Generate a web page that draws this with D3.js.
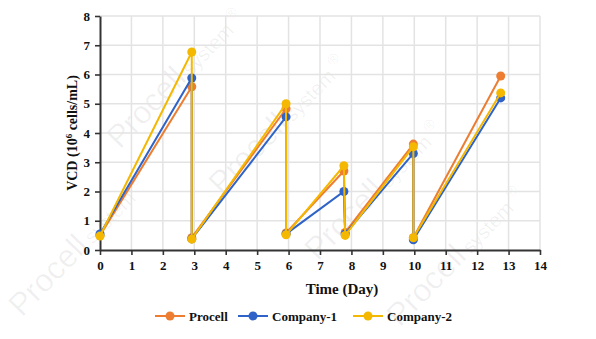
<!DOCTYPE html>
<html>
<head>
<meta charset="utf-8">
<script src="https://cdn.jsdelivr.net/npm/d3@7"></script>
<style>
  html, body { margin: 0; padding: 0; background: #fff; }
  svg { display: block; }
  .serif { font-family: "Liberation Serif", "Times New Roman", serif; font-weight: bold; }
</style>
</head>
<body>
<svg id="chart" width="596" height="339"></svg>
<script>
// ---- data ----
const days = [0, 2.92, 2.92, 5.92, 5.92, 7.76, 7.8, 9.97, 9.97, 12.75];
const procellValues   = [0.50, 5.58, 0.42, 4.83, 0.58, 2.70, 0.60, 3.62, 0.42, 5.95];
const company1Values  = [0.55, 5.88, 0.38, 4.55, 0.55, 2.00, 0.55, 3.30, 0.35, 5.20];
const company2Values  = [0.48, 6.77, 0.37, 5.00, 0.52, 2.88, 0.50, 3.53, 0.42, 5.37];
const seriesNames = ["Procell", "Company-1", "Company-2"];
const xTicks = [0,1,2,3,4,5,6,7,8,9,10,11,12,13,14];
const yTicks = [0,1,2,3,4,5,6,7,8];

const colors = ["#ED7D31", "#2F63C8", "#F5B800"];
const series = [procellValues, company1Values, company2Values].map((vals, i) => ({
  name: seriesNames[i], color: colors[i],
  points: days.map((d, j) => ({ x: d, y: vals[j] }))
}));

const svg = d3.select("#chart");
const W = 596, H = 339;
const margin = { left: 100, right: 56, top: 16, bottom: 89 };
const iw = W - margin.left - margin.right;
const ih = H - margin.top - margin.bottom;

// watermark (decorative)
const wm = svg.append("g").attr("fill", "#000").attr("fill-opacity", 0.06)
  .style("font-family", "'Liberation Sans', Arial, sans-serif");
const wmAnchors = [[222, 196], [318, 262], [400, 328], [22, 318], [120, 150]];
wmAnchors.forEach(([ax, ay]) => {
  const t = wm.append("text").attr("transform", `translate(${ax},${ay}) rotate(-46)`);
  t.append("tspan").attr("font-size", 32).text("Procell");
  t.append("tspan").attr("font-size", 20).attr("dx", 4).text("system");
  t.append("tspan").attr("font-size", 15).attr("dx", 5).attr("dy", -10).text("®");
});

const g = svg.append("g").attr("transform", `translate(${margin.left},${margin.top})`);

const x = d3.scaleLinear().domain([0, 14]).range([0, iw]);
const y = d3.scaleLinear().domain([0, 8]).range([ih, 0]);

// gridlines
g.append("g").selectAll("line").data(xTicks.filter(d => d > 0)).join("line")
  .attr("x1", d => x(d)).attr("x2", d => x(d)).attr("y1", 0).attr("y2", ih)
  .attr("stroke", "#e3e3e3").attr("stroke-width", 1.5);
g.append("g").selectAll("line").data(yTicks.filter(d => d > 0)).join("line")
  .attr("x1", 0).attr("x2", iw).attr("y1", d => y(d)).attr("y2", d => y(d))
  .attr("stroke", "#e3e3e3").attr("stroke-width", 1.5);

// axes
const xAxis = g.append("g").attr("transform", `translate(0,${ih})`)
  .call(d3.axisBottom(x).tickValues(xTicks).tickSize(5).tickPadding(6).tickSizeOuter(0));
const yAxis = g.append("g")
  .call(d3.axisLeft(y).tickValues(yTicks).tickSize(5).tickPadding(5).tickSizeOuter(0));
[xAxis, yAxis].forEach(a => {
  a.attr("font-family", null);
  a.select(".domain").attr("stroke", "#333").attr("stroke-width", 2);
  a.selectAll(".tick line").attr("stroke", "#333").attr("stroke-width", 1.6);
  a.selectAll(".tick text").attr("class", "serif")
    .style("font-size", "13px").attr("fill", "#111");
});

// lines & markers
const line = d3.line().x(d => x(d.x)).y(d => y(d.y));
series.forEach(s => {
  const sg = g.append("g");
  sg.append("path").datum(s.points).attr("d", line)
    .attr("fill", "none").attr("stroke", s.color).attr("stroke-width", 2);
  sg.selectAll("circle").data(s.points).join("circle")
    .attr("cx", d => x(d.x)).attr("cy", d => y(d.y)).attr("r", 4.5)
    .attr("fill", s.color);
});

// axis titles
svg.append("text").attr("class", "serif")
  .attr("x", margin.left + x(7.7)).attr("y", 294)
  .attr("text-anchor", "middle")
  .style("font-size", "15px").attr("fill", "#111")
  .text("Time (Day)");

const yt = svg.append("text").attr("class", "serif")
  .attr("transform", `translate(77,${margin.top + ih / 2}) rotate(-90)`)
  .attr("text-anchor", "middle")
  .style("font-size", "14px").attr("fill", "#111");
yt.append("tspan").text("VCD (10");
yt.append("tspan").style("font-size", "9px").attr("dy", -5).text("6");
yt.append("tspan").attr("dy", 5).text(" cells/mL)");

// legend
const legendX = [155, 238, 353];
const lg = svg.append("g");
series.forEach((s, i) => {
  const lx = legendX[i], ly = 316;
  lg.append("line").attr("x1", lx).attr("x2", lx + 30).attr("y1", ly).attr("y2", ly)
    .attr("stroke", s.color).attr("stroke-width", 2);
  lg.append("circle").attr("cx", lx + 15).attr("cy", ly).attr("r", 4.5).attr("fill", s.color);
  lg.append("text").attr("class", "serif").attr("x", lx + 34).attr("y", ly + 4.5)
    .style("font-size", "13px").attr("fill", "#111")
    .text(s.name);
});
</script>
</body>
</html>
